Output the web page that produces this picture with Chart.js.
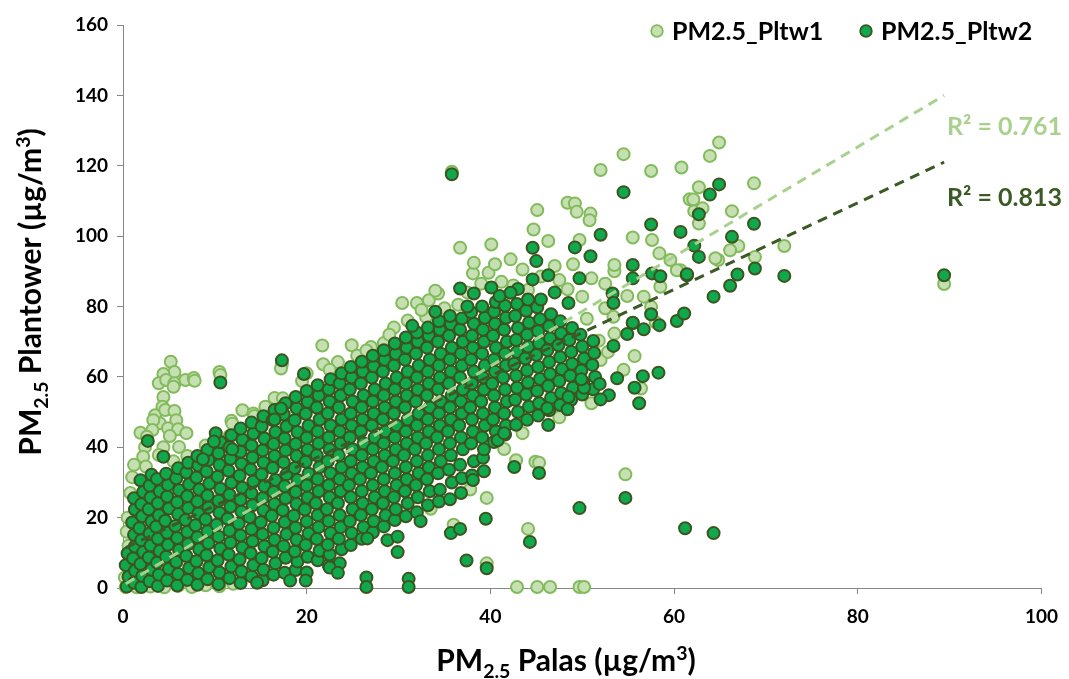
<!DOCTYPE html>
<html>
<head>
<meta charset="utf-8">
<script src="https://cdn.jsdelivr.net/npm/chart.js@4.4.1/dist/chart.umd.min.js"></script>
<style>
  html, body { margin: 0; padding: 0; background: #fff; }
  canvas { display: block; }
</style>
</head>
<body>
<canvas id="chart" width="1069" height="679"></canvas>
<script>
// PM2.5 Plantower vs Palas

// Pltw1 (light) - the pale cluster at low Palas values
const pltw1Cluster = [
  [5.2,64.3],[5.6,61.4],[4.4,60.8],[3.9,58.2],[4.7,59.1],[5.6,58.2],[5.5,57.2],[6.8,59.1],[7.7,59.7],[7.8,58.9],
  [4.4,54.3],[4.3,51.5],[3.5,49.1],[4.6,50.6],[5.6,50.3],[5.8,47.7],[4.0,46.8],[3.3,47.7],[4.9,45.4],[6.0,45.1],
  [1.9,44.1],[6.9,44.0],[5.1,43.2],[3.2,44.9],[2.6,43.0],[6.1,40.1],[2.4,40.1],[2.2,37.3],[4.4,40.0],[3.9,37.8],
  [11.8,47.5],[14.2,49.6],[10.5,61.4],[17.2,62.4],[18.5,52.9],[17.4,53.9],[11.6,43.2],[10.6,60.5],[11.9,46.7],[14.3,48.9],
  [1.2,35.0],[2.5,34.5],[5.5,36.0],[7.0,37.5],[9.0,40.5],[0.8,27.0],[1.0,31.5],[0.5,20.0]
];

// Pltw1 - points along the axis and round the edges of the main band
const pltw1Edge = [
  [0.3,0.3],[1.5,0.2],[3.0,0.4],[4.5,0.2],[6.0,0.6],[7.5,0.3],[9.0,0.8],[10.5,0.5],[12.0,1.2],[0.2,3.0],[0.6,12.0],[0.4,16.0],
  [42.9,0.3],[45.1,0.3],[46.5,0.3],[49.7,0.3],[50.2,0.3],
  [39.6,25.6],[44.1,16.8],[39.6,7.0],[42.8,36.3],[44.9,35.9],[45.3,35.6],[54.7,32.3],[56.4,56.7],[36.0,18.0],
  [26.8,19.3],[30.0,20.7],[28.4,23.6],[33.5,22.5],[37.8,28.0],[41.5,39.5],[43.5,44.0],[47.5,48.5],[51.0,52.5],[22.0,8.0],[18.0,4.0],
  [19.5,58.8],[21.7,68.9],[24.9,69.0],[23.4,64.2],[21.8,63.6],[17.3,63.6],[20.0,61.0],[22.5,62.0],[25.5,66.0],[27.0,68.5],
  [28.4,69.6],[30.4,81.0],[32.0,81.0],[29.5,74.0],[31.0,76.0],[33.3,81.8],[34.3,83.7],[33.0,77.0],[35.0,79.5],[36.5,80.5],
  [38.1,89.4],[39.8,89.6],[41.2,87.0],[44.1,84.7],[48.4,84.9],[50.0,82.8],[36.7,96.7],[40.1,97.6],[38.2,92.4],[42.2,93.4],
  [46.3,98.6],[49.7,98.9],[44.7,101.9],[45.1,107.4],[48.4,109.5],[49.2,109.3],[49.4,106.9],[50.9,106.4],[50.8,104.5],[35.8,118.3],
  [13.0,50.5],[15.5,51.5],[16.5,54.0],[26.5,67.5],[29.0,72.0],[37.5,84.0],[39.0,86.5],[42.5,86.0],[45.5,88.5],[47.0,91.5],
  [43.5,90.5],[40.5,92.0],[41.0,82.5],[47.5,87.5],[49.0,92.0],[51.0,88.0],[52.5,86.5],[53.5,90.0],[34.0,84.5],[32.5,79.0]
];

// Pltw1 - high and far points
const pltw1Far = [
  [52.0,118.8],[54.5,123.3],[57.5,118.5],[60.8,119.5],[63.9,122.8],[64.9,126.6],[68.7,115.0],[62.7,113.9],[61.7,110.5],[62.1,110.4],
  [62.2,107.1],[63.1,107.9],[62.7,103.6],[66.3,107.1],[67.0,97.2],[66.1,96.0],[68.8,94.1],[72.0,97.2],[64.8,93.2],[64.5,93.7],
  [60.7,90.3],[60.3,90.3],[58.4,95.1],[59.6,93.2],[57.6,98.9],[55.5,99.6],[53.5,91.8],[58.5,85.6],[57.5,79.9],[53.4,77.1],
  [54.9,83.0],[56.7,82.8],[51.8,70.3],[55.7,65.9],[52.0,64.8],[52.8,67.1],[53.5,72.3],[49.9,64.0],[89.4,86.4],[52.5,79.5],
  [58.0,75.5],[50.5,76.5],[54.5,62.0]
];

// Pltw2 (dark) - the dense band
const pltw2Core = [
  [0.4,0.4],[0.6,3.2],[0.3,6.5],[0.5,9.8],
  [1.2,1.5],[1.3,4.9],[1.1,8.4],[1.3,11.8],[1.2,15.1],[1.0,18.6],[1.3,22.3],[1.2,25.5],
  [2.0,0.3],[2.1,3.4],[1.9,6.8],[2.2,10.2],[2.0,13.6],[1.8,17.0],[2.1,20.4],[2.0,23.8],[2.2,27.3],[1.9,30.6],
  [2.9,1.9],[3.1,5.2],[2.8,8.7],[3.0,12.1],[2.9,15.5],[3.1,18.9],[2.8,22.4],[3.0,25.7],[2.9,29.1],[3.1,32.2],
  [3.8,0.6],[3.9,3.8],[3.7,7.2],[4.0,10.5],[3.8,14.0],[3.6,17.4],[3.9,20.7],[3.8,24.1],[4.0,27.5],[3.7,31.0],
  [4.8,2.1],[5.0,5.5],[4.7,8.9],[4.9,12.3],[4.8,15.7],[4.6,19.1],[5.0,22.6],[4.8,26.0],[4.9,29.3],[4.7,32.5],
  [5.9,0.7],[6.0,4.0],[5.8,7.4],[6.1,10.8],[5.9,14.2],[5.7,17.6],[6.0,21.0],[5.9,24.4],[6.1,27.8],[5.8,31.2],[6.0,34.0],
  [7.0,2.3],[7.2,5.7],[6.9,9.1],[7.1,12.5],[7.0,15.9],[6.8,19.3],[7.1,22.7],[7.0,26.1],[7.2,29.5],[6.9,32.8],[7.1,35.6],
  [8.1,0.9],[8.2,4.2],[8.0,7.6],[8.3,11.0],[8.1,14.4],[7.9,17.8],[8.2,21.2],[8.1,24.6],[8.3,28.0],[8.0,31.4],[8.2,34.8],[8.1,37.5],
  [9.2,2.5],[9.4,5.9],[9.1,9.3],[9.3,12.7],[9.2,16.1],[9.0,19.5],[9.3,22.9],[9.2,26.3],[9.4,29.7],[9.1,33.1],[9.3,36.4],[9.2,39.2],
  [10.4,1.1],[10.5,4.4],[10.3,7.8],[10.6,11.2],[10.4,14.6],[10.2,18.0],[10.5,21.4],[10.4,24.8],[10.6,28.2],[10.3,31.6],[10.5,35.0],[10.4,38.3],[10.6,41.5],
  [11.6,2.8],[11.8,6.1],[11.5,9.5],[11.7,12.9],[11.6,16.3],[11.4,19.7],[11.7,23.1],[11.6,26.5],[11.8,29.9],[11.5,33.3],[11.7,36.7],[11.6,40.0],[11.8,43.4],
  [12.8,1.4],[12.9,4.7],[12.7,8.1],[13.0,11.5],[12.8,14.9],[12.6,18.3],[12.9,21.7],[12.8,25.1],[13.0,28.5],[12.7,31.9],[12.9,35.3],[12.8,38.7],[13.0,42.1],[12.8,45.3],
  [14.0,3.3],[14.2,6.5],[13.9,9.9],[14.1,13.3],[14.0,16.7],[13.8,20.1],[14.1,23.5],[14.0,26.9],[14.2,30.3],[13.9,33.7],[14.1,37.1],[14.0,40.5],[14.2,43.9],[14.0,47.0],
  [15.2,2.2],[15.3,5.2],[15.1,8.5],[15.4,11.9],[15.2,15.3],[15.0,18.7],[15.3,22.1],[15.2,25.5],[15.4,28.9],[15.1,32.3],[15.3,35.7],[15.2,39.1],[15.4,42.5],[15.1,45.9],[15.3,48.8],
  [16.4,3.8],[16.6,7.0],[16.3,10.3],[16.5,13.7],[16.4,17.1],[16.2,20.5],[16.5,23.9],[16.4,27.3],[16.6,30.7],[16.3,34.1],[16.5,37.5],[16.4,40.9],[16.6,44.3],[16.3,47.7],[16.5,50.6],
  [17.6,4.3],[17.7,8.6],[17.5,11.9],[17.8,15.3],[17.6,18.7],[17.4,22.1],[17.7,25.5],[17.6,28.9],[17.8,32.3],[17.5,35.7],[17.7,39.1],[17.6,42.5],[17.8,45.9],[17.5,49.3],[17.7,52.5],
  [18.8,5.1],[19.0,7.5],[18.7,10.4],[18.9,13.7],[18.8,17.1],[18.6,20.5],[18.9,23.9],[18.8,27.3],[19.0,30.7],[18.7,34.1],[18.9,37.5],[18.8,40.9],[19.0,44.3],[18.7,47.7],[18.9,51.1],[18.8,54.3],
  [20.0,4.4],[20.1,8.9],[19.9,12.2],[20.2,15.5],[20.0,18.9],[19.8,22.3],[20.1,25.7],[20.0,29.1],[20.2,32.5],[19.9,35.9],[20.1,39.3],[20.0,42.7],[20.2,46.1],[19.9,49.5],[20.1,52.9],[20.0,56.0],
  [21.2,7.9],[21.4,10.6],[21.1,13.9],[21.3,17.3],[21.2,20.7],[21.0,24.1],[21.3,27.5],[21.2,30.9],[21.4,34.3],[21.1,37.7],[21.3,41.1],[21.2,44.5],[21.4,47.9],[21.1,51.3],[21.3,54.7],[21.2,57.6],
  [22.4,6.5],[22.5,9.5],[22.3,12.3],[22.6,15.6],[22.4,19.0],[22.2,22.4],[22.5,25.8],[22.4,29.2],[22.6,32.6],[22.3,36.0],[22.5,39.4],[22.4,42.8],[22.6,46.2],[22.3,49.6],[22.5,53.0],[22.4,56.4],[22.6,59.3],
  [23.6,7.0],[23.8,11.0],[23.5,14.0],[23.7,17.3],[23.6,20.7],[23.4,24.1],[23.7,27.5],[23.6,30.9],[23.8,34.3],[23.5,37.7],[23.7,41.1],[23.6,44.5],[23.8,47.9],[23.5,51.3],[23.7,54.7],[23.6,58.1],[23.8,61.0],
  [24.8,12.2],[24.9,15.6],[24.7,19.0],[25.0,22.4],[24.8,25.8],[24.6,29.2],[24.9,32.6],[24.8,36.0],[25.0,39.4],[24.7,42.8],[24.9,46.2],[24.8,49.6],[25.0,53.0],[24.7,56.4],[24.9,59.8],[24.8,62.8],
  [26.0,14.0],[26.2,17.3],[25.9,20.7],[26.1,24.1],[26.0,27.5],[25.8,30.9],[26.1,34.3],[26.0,37.7],[26.2,41.1],[25.9,44.5],[26.1,47.9],[26.0,51.3],[26.2,54.7],[25.9,58.1],[26.1,61.5],[26.0,64.3],
  [27.2,15.8],[27.3,19.0],[27.1,22.4],[27.4,25.8],[27.2,29.2],[27.0,32.6],[27.3,36.0],[27.2,39.4],[27.4,42.8],[27.1,46.2],[27.3,49.6],[27.2,53.0],[27.4,56.4],[27.1,59.8],[27.3,63.0],[27.2,66.0],
  [28.4,17.5],[28.6,20.7],[28.3,24.1],[28.5,27.5],[28.4,30.9],[28.2,34.3],[28.5,37.7],[28.4,41.1],[28.6,44.5],[28.3,47.9],[28.5,51.3],[28.4,54.7],[28.6,58.1],[28.3,61.5],[28.5,64.9],[28.4,67.6],
  [29.6,19.3],[29.7,22.4],[29.5,25.8],[29.8,29.2],[29.6,32.6],[29.4,36.0],[29.7,39.4],[29.6,42.8],[29.8,46.2],[29.5,49.6],[29.7,53.0],[29.6,56.4],[29.8,59.8],[29.5,63.2],[29.7,66.6],[29.6,69.5],
  [30.8,20.4],[31.0,24.1],[30.7,27.5],[30.9,30.9],[30.8,34.3],[30.6,37.7],[30.9,41.1],[30.8,44.5],[31.0,47.9],[30.7,51.3],[30.9,54.7],[30.8,58.1],[31.0,61.5],[30.7,64.9],[30.9,68.3],[30.8,71.2],
  [32.0,21.5],[32.1,25.8],[31.9,29.2],[32.2,32.6],[32.0,36.0],[31.8,39.4],[32.1,42.8],[32.0,46.2],[32.2,49.6],[31.9,53.0],[32.1,56.4],[32.0,59.8],[32.2,63.2],[31.9,66.6],[32.1,70.0],[32.0,72.6],
  [33.2,23.5],[33.4,27.5],[33.1,30.9],[33.3,34.3],[33.2,37.7],[33.0,41.1],[33.3,44.5],[33.2,47.9],[33.4,51.3],[33.1,54.7],[33.3,58.1],[33.2,61.5],[33.4,64.9],[33.1,68.3],[33.3,71.7],[33.2,74.0],
  [34.4,24.6],[34.5,27.9],[34.3,32.6],[34.6,36.0],[34.4,39.4],[34.2,42.8],[34.5,46.2],[34.4,49.6],[34.6,53.0],[34.3,56.4],[34.5,59.8],[34.4,63.2],[34.6,66.6],[34.3,70.0],[34.5,73.4],[34.4,75.8],
  [35.6,25.2],[35.8,30.0],[35.5,33.6],[35.7,37.7],[35.6,41.1],[35.4,44.5],[35.7,47.9],[35.6,51.3],[35.8,54.7],[35.5,58.1],[35.7,61.5],[35.6,64.9],[35.8,68.3],[35.5,71.7],[35.7,75.0],[35.6,77.3],
  [36.8,27.0],[36.9,31.2],[36.7,35.0],[37.0,39.4],[36.8,42.8],[36.6,46.2],[36.9,49.6],[36.8,53.0],[37.0,56.4],[36.7,59.8],[36.9,63.2],[36.8,66.6],[37.0,70.0],[36.7,73.4],[36.9,76.6],
  [38.0,32.0],[38.2,36.0],[37.9,41.1],[38.1,44.5],[38.0,47.9],[37.8,51.3],[38.1,54.7],[38.0,58.1],[38.2,61.5],[37.9,64.9],[38.1,68.3],[38.0,71.7],[38.2,75.1],[37.9,78.4],
  [39.2,37.0],[39.3,39.4],[39.1,42.8],[39.4,46.2],[39.2,49.6],[39.0,53.0],[39.3,56.4],[39.2,59.8],[39.4,63.2],[39.1,66.6],[39.3,70.0],[39.2,73.4],[39.4,76.8],[39.1,80.0],
  [40.4,41.5],[40.6,44.5],[40.3,47.9],[40.5,51.3],[40.4,54.7],[40.2,58.1],[40.5,61.5],[40.4,64.9],[40.6,68.3],[40.3,71.7],[40.5,75.1],[40.4,78.5],[40.6,81.3],
  [41.6,43.6],[41.7,46.2],[41.5,49.6],[41.8,53.0],[41.6,56.4],[41.4,59.8],[41.7,63.2],[41.6,66.6],[41.8,70.0],[41.5,73.4],[41.7,76.8],[41.6,80.2],
  [42.8,46.4],[43.0,50.0],[42.7,53.5],[42.9,56.9],[42.8,60.3],[42.6,63.7],[42.9,67.1],[42.8,70.5],[43.0,73.9],[42.7,77.3],[42.9,80.7],
  [44.0,47.8],[44.2,51.5],[43.9,55.0],[44.1,58.4],[44.0,61.8],[43.8,65.2],[44.1,68.6],[44.0,72.0],[44.2,75.4],[43.9,78.8],[44.1,82.0],
  [45.2,49.0],[45.3,52.5],[45.1,56.0],[45.4,59.4],[45.2,62.8],[45.0,66.2],[45.3,69.6],[45.2,73.0],[45.4,76.4],[45.1,79.8],
  [46.4,50.5],[46.6,54.0],[46.3,57.4],[46.5,60.8],[46.4,64.2],[46.2,67.6],[46.5,71.0],[46.4,74.4],[46.6,77.8],
  [47.6,52.0],[47.7,55.4],[47.5,58.8],[47.8,62.2],[47.6,65.6],[47.4,69.0],[47.7,72.4],[47.6,75.8],
  [48.8,53.5],[49.0,56.9],[48.7,60.3],[48.9,63.7],[48.8,67.1],[48.6,70.5],[48.9,73.9],
  [50.0,55.0],[50.1,58.4],[49.9,61.8],[50.2,65.2],[50.0,68.6],[49.8,72.0],
  [51.2,56.5],[51.4,60.0],[51.1,63.4],[51.3,66.8],[51.2,70.2]
];

// Pltw2 - scattered points off the band
const pltw2Edge = [
  [17.3,64.7],[19.7,60.8],[10.6,58.4],[10.1,44.0],[9.9,41.6],[11.9,39.4],[2.7,41.8],[4.4,37.3],[8.7,36.6],[17.2,51.0],[16.5,47.9],
  [14.6,1.5],[18.2,2.1],[19.9,2.1],[22.5,5.8],[23.4,4.3],[26.5,3.0],[26.5,0.3],[31.1,2.6],[31.1,0.3],[26.6,14.1],[28.8,13.6],
  [29.9,14.6],[29.9,10.2],[32.4,19.0],[35.7,15.6],[36.7,16.8],[37.4,7.8],[39.5,19.7],[39.6,5.6],[38.1,30.7],[39.3,33.2],
  [40.8,42.0],[41.5,44.0],[42.6,34.4],[44.3,13.1],[45.3,32.7],[49.7,22.7],[54.7,25.6],[61.2,17.0],[64.3,15.6],
  [46.3,46.3],[48.4,50.8],[46.2,51.1],[48.5,54.3],[50.2,56.9],[49.9,59.3],[51.9,58.0],[52.9,54.8],[52.0,53.6],[53.8,59.6],
  [55.7,56.9],[56.6,60.2],[58.3,61.2],[56.2,52.5],[53.4,68.8],[54.9,72.2],[56.7,73.5],[58.4,74.7],[55.5,75.3],
  [31.5,74.5],[34.0,78.5],[37.5,80.0],[43.0,85.0],[47.0,84.0],[48.5,81.0],[41.0,83.0],[45.5,82.0]
];

// Pltw2 - high and far points
const pltw2Far = [
  [35.8,117.6],[54.5,112.5],[57.5,103.3],[52.0,100.4],[60.7,101.2],[62.7,106.2],[63.9,111.8],[64.9,114.7],[68.7,103.5],[66.3,99.8],
  [44.6,96.7],[49.2,96.8],[50.9,94.3],[45.0,92.9],[55.5,91.8],[62.2,97.3],[62.7,94.1],[61.4,88.9],[49.7,88.0],[36.7,85.1],
  [38.2,83.7],[40.1,85.4],[42.2,83.9],[46.3,88.9],[44.6,87.7],[53.3,83.7],[55.5,88.0],[57.6,89.4],[58.5,88.6],[53.4,81.0],
  [57.5,77.8],[55.5,75.4],[60.3,75.9],[61.1,78.0],[64.3,82.8],[66.9,89.1],[66.1,85.9],[68.8,90.8],[72.0,88.7],[61.4,89.2],
  [89.4,88.9]
];

// dashed linear trend lines, end points
const trendX = [0.3, 89.4];
const trend1Y = [1.2, 140.0];
const trend2Y = [11.5, 121.0];

const xTicks = [0, 20, 40, 60, 80, 100];
const yTicks = [0, 20, 40, 60, 80, 100, 120, 140, 160];

const LIGHT_FILL = '#c6e0b4';
const LIGHT_EDGE = '#82bb5b';
const DARK_FILL = '#0fa84c';
const DARK_EDGE = '#3c5420';
const TREND_LIGHT = '#a9d18e';
const TREND_DARK = '#3b5a26';
const FONT = 'Lato, "Open Sans", sans-serif';

const toXY = arr => arr.map(p => ({x: p[0], y: p[1]}));
const trendPts = ys => trendX.map((x, i) => ({x, y: ys[i]}));

// text with sub/superscript pieces: [text, 'sub'|'sup'|'']
function richWidth(ctx, parts, size) {
    let w = 0;
    parts.forEach(([t, kind]) => {
        ctx.font = `bold ${kind ? size * 0.65 : size}px ${FONT}`;
        w += ctx.measureText(t).width;
    });
    return w;
}

function drawRich(ctx, parts, cx, baseY, size, color) {
    let x = cx - richWidth(ctx, parts, size) / 2;
    ctx.fillStyle = color;
    ctx.textAlign = 'left';
    ctx.textBaseline = 'alphabetic';
    parts.forEach(([t, kind]) => {
        ctx.font = `bold ${kind ? size * 0.65 : size}px ${FONT}`;
        const dy = kind === 'sub' ? size * 0.22 : kind === 'sup' ? -size * 0.38 : 0;
        ctx.fillText(t, x, baseY + dy);
        x += ctx.measureText(t).width;
    });
}

const textPlugin = {
    id: 'texts',
    afterDraw(chart) {
        const ctx = chart.ctx;
        ctx.save();

        // axis titles
        drawRich(ctx, [['PM', ''], ['2.5', 'sub'], [' Palas (µg/m', ''], ['3', 'sup'], [')', '']], 566, 671, 30, '#000');
        ctx.save();
        ctx.translate(41, 292);
        ctx.rotate(-Math.PI / 2);
        drawRich(ctx, [['PM', ''], ['2.5', 'sub'], [' Plantower (µg/m', ''], ['3', 'sup'], [')', '']], 0, 0, 30, '#000');
        ctx.restore();

        // legend
        const legend = [
            {label: chart.data.datasets[0].label, fill: LIGHT_FILL, edge: LIGHT_EDGE, x: 657},
            {label: chart.data.datasets[1].label, fill: DARK_FILL, edge: DARK_EDGE, x: 866}
        ];
        ctx.font = `bold 25px ${FONT}`;
        ctx.textBaseline = 'middle';
        ctx.textAlign = 'left';
        legend.forEach(l => {
            ctx.beginPath();
            ctx.arc(l.x, 31, 5.8, 0, Math.PI * 2);
            ctx.fillStyle = l.fill;
            ctx.fill();
            ctx.lineWidth = 1.8;
            ctx.strokeStyle = l.edge;
            ctx.stroke();
            ctx.fillStyle = '#000';
            ctx.fillText(l.label, l.x + 15, 32);
        });

        // R² labels
        ctx.fillStyle = TREND_LIGHT;
        ctx.fillText('R² = 0.761', 947, 127);
        ctx.fillStyle = TREND_DARK;
        ctx.fillText('R² = 0.813', 947, 198);
        ctx.restore();
    }
};

const pointStyle = (fill, edge) => ({
    backgroundColor: fill,
    borderColor: edge,
    borderWidth: 2,
    pointRadius: 6,
    pointHoverRadius: 6,
    clip: false
});

new Chart(document.getElementById('chart'), {
    type: 'scatter',
    data: {
        datasets: [
            {label: 'PM2.5_Pltw1', data: toXY([...pltw1Edge, ...pltw1Cluster, ...pltw1Far]), order: 2, ...pointStyle(LIGHT_FILL, LIGHT_EDGE)},
            {label: 'PM2.5_Pltw2', data: toXY([...pltw2Core, ...pltw2Edge, ...pltw2Far]), order: 1, ...pointStyle(DARK_FILL, DARK_EDGE)},
            {type: 'line', label: 'trend1', data: trendPts(trend1Y), order: 0, borderColor: TREND_LIGHT,
                borderWidth: 3, borderDash: [10, 7], pointRadius: 0, fill: false},
            {type: 'line', label: 'trend2', data: trendPts(trend2Y), order: 0, borderColor: TREND_DARK,
                borderWidth: 3, borderDash: [10, 7], pointRadius: 0, fill: false}
        ]
    },
    options: {
        responsive: false,
        devicePixelRatio: 1,
        animation: false,
        layout: {padding: {top: 25, right: 23, left: 0, bottom: 0}},
        plugins: {legend: {display: false}, tooltip: {enabled: false}},
        scales: {
            x: {
                type: 'linear', min: 0, max: 100,
                afterBuildTicks: s => { s.ticks = xTicks.map(v => ({value: v})); },
                afterFit: s => { s.height = 91; },
                ticks: {color: '#000', padding: 11, font: {family: FONT, size: 19, weight: 'bold'}},
                grid: {drawOnChartArea: false, color: '#868686', tickLength: 6},
                border: {color: '#868686', width: 1}
            },
            y: {
                type: 'linear', min: 0, max: 160,
                afterBuildTicks: s => { s.ticks = yTicks.map(v => ({value: v})); },
                afterFit: s => { s.width = 123; },
                ticks: {color: '#000', padding: 9, font: {family: FONT, size: 19, weight: 'bold'}},
                grid: {drawOnChartArea: false, color: '#868686', tickLength: 6},
                border: {color: '#868686', width: 1}
            }
        }
    },
    plugins: [textPlugin]
});
</script>
</body>
</html>
